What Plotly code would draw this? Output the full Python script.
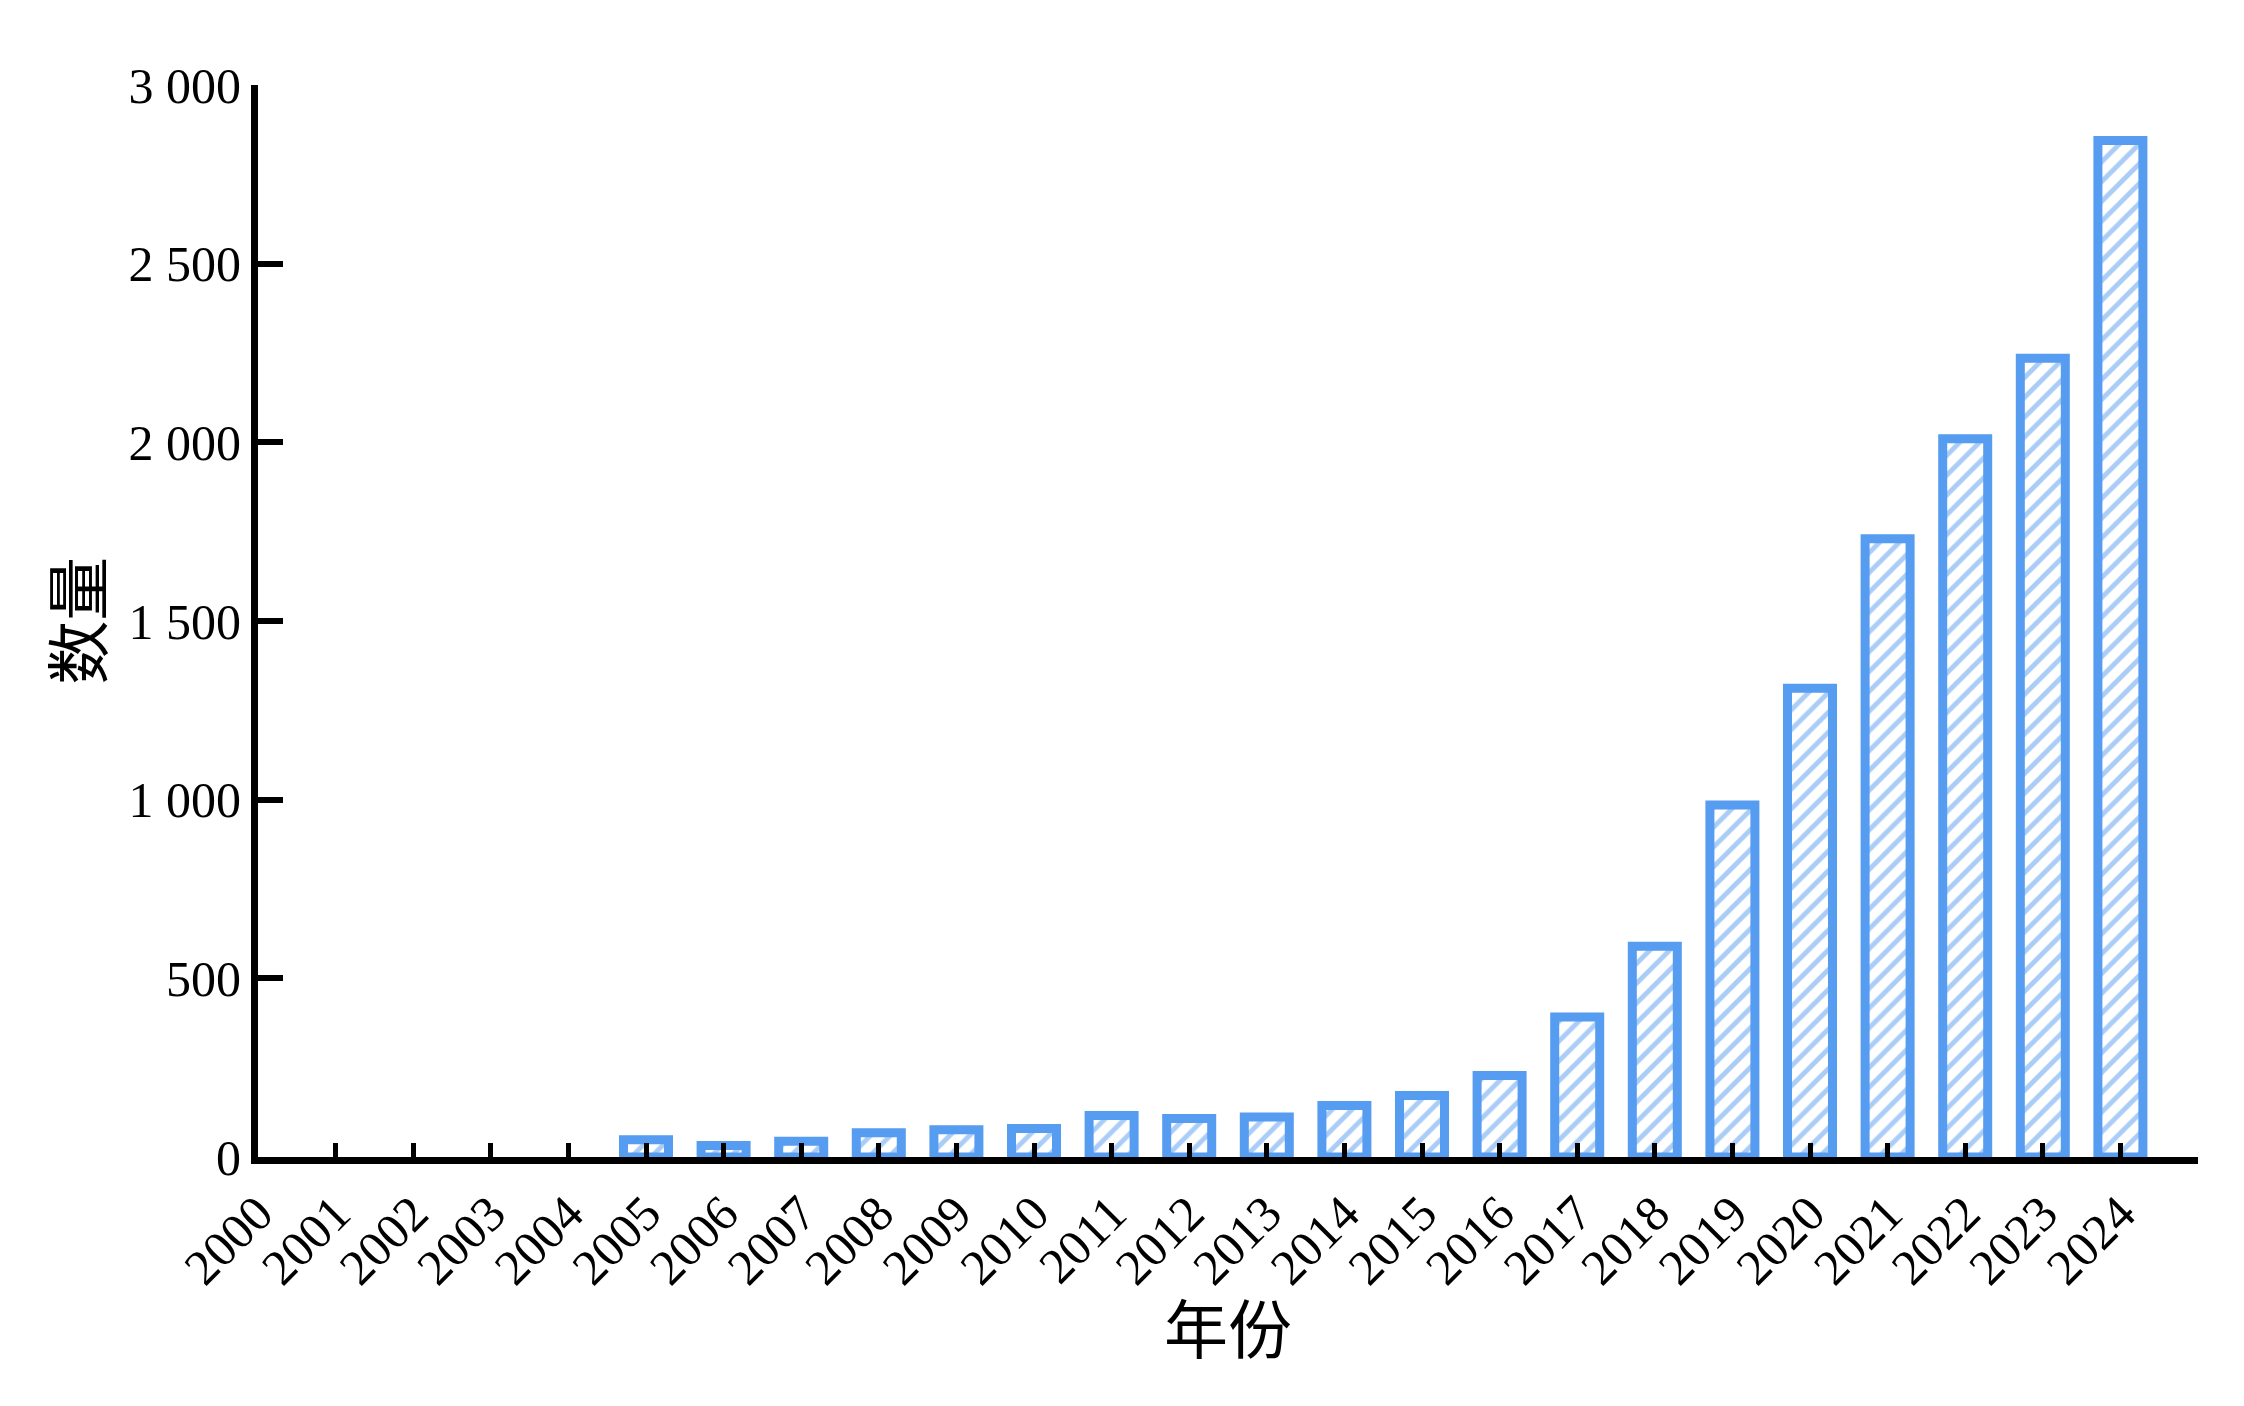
import plotly.graph_objects as go

years = list(range(2000, 2025))
counts = [0, 0, 0, 0, 0, 48, 32, 44, 68, 76, 80, 116, 108, 112, 144, 172, 228,
          392, 590, 985, 1312, 1730, 2010, 2235, 2845]
x_tick_vals = list(range(2000, 2026))
x_tick_text = [str(y) for y in range(2000, 2025)] + [""]
y_tick_vals = [0, 500, 1000, 1500, 2000, 2500, 3000]
y_tick_text = ["0", "500", "1 000", "1 500", "2 000", "2 500", "3 000"]
x_title = "年份"
y_title = "数量"

blue = "#569cf0"
font_fam = "Liberation Serif, Times New Roman, Noto Sans CJK SC, serif"
cjk_fam = "Noto Sans CJK SC"

# years with no publications draw no bar
bar_x = [y for y, c in zip(years, counts) if c > 0]
bar_y = [c for c in counts if c > 0]

fig = go.Figure()
fig.add_trace(go.Bar(
    x=bar_x, y=bar_y, width=0.58,
    marker=dict(color="white",
                line=dict(color=blue, width=9),
                pattern=dict(shape="/", fgcolor=blue, bgcolor="white",
                             size=14, solidity=0.35, fillmode="overlay")),
    showlegend=False,
))

fig.update_layout(
    width=2244, height=1406,
    margin=dict(l=250, r=54, t=77, b=257),
    paper_bgcolor="white", plot_bgcolor="white",
    font=dict(family=font_fam, size=48, color="black"),
    annotations=[
        dict(text=x_title, xref="paper", yref="paper", x=0.5, y=-0.157,
             xanchor="center", yanchor="middle", showarrow=False,
             font=dict(family=cjk_fam, size=64, color="black")),
        dict(text=y_title, xref="paper", yref="paper", x=-0.095, y=0.5,
             xanchor="center", yanchor="middle", showarrow=False, textangle=-90,
             font=dict(family=cjk_fam, size=64, color="black")),
    ],
)
fig.update_xaxes(
    range=[2000, 2025], tickvals=x_tick_vals, ticktext=x_tick_text,
    tickangle=-45, ticks="inside", ticklen=14, tickwidth=5, tickcolor="black",
    showline=True, linecolor="black", linewidth=7, showgrid=False, zeroline=False,
    tickfont=dict(family=font_fam, size=50),
)
fig.update_yaxes(
    range=[0, 3000], tickvals=y_tick_vals, ticktext=y_tick_text,
    ticks="inside", ticklen=25, tickwidth=6, tickcolor="black",
    showline=True, linecolor="black", linewidth=7, showgrid=False, zeroline=False,
    tickfont=dict(family=font_fam, size=50),
)

fig.write_html("out.html")
